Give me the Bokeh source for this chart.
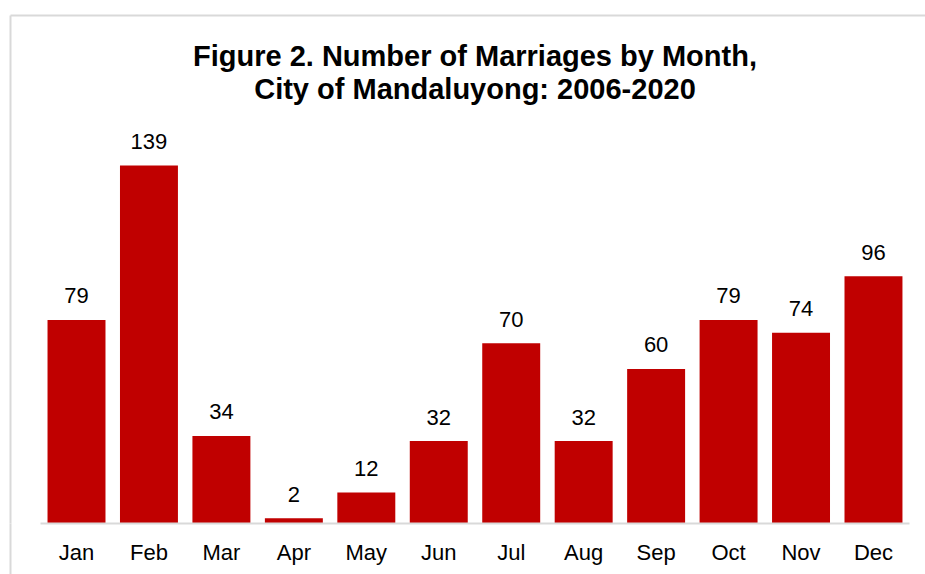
from bokeh.plotting import figure
from bokeh.models import LinearAxis, FixedTicker, Range1d, ColumnDataSource
from bokeh.core.properties import value
from bokeh.embed import file_html
from bokeh.resources import INLINE

# ---- data ----
months = ["Jan", "Feb", "Mar", "Apr", "May", "Jun",
          "Jul", "Aug", "Sep", "Oct", "Nov", "Dec"]
marriages = [79, 139, 34, 2, 12, 32, 70, 32, 60, 79, 74, 96]
title_lines = ["Figure 2. Number of Marriages by Month,",
               "City of Mandaluyong: 2006-2020"]

FONT = "Liberation Sans"
BAR = "#C00000"
BORDER = "#D9D9D9"

n = len(months)
xs = list(range(n))

x_start, x_end = -0.911, 11.718
y_start, y_end = 0, 197.2

p = figure(width=925, height=574, output_backend="svg", toolbar_location=None,
           x_range=Range1d(x_start, x_end), y_range=Range1d(y_start, y_end),
           x_axis_location=None, y_axis_location=None,
           min_border_left=10, min_border_right=0,
           min_border_top=15, min_border_bottom=51)
p.outline_line_color = None
p.grid.visible = False
p.background_fill_color = "white"
p.border_fill_color = "white"

src = ColumnDataSource(dict(x=xs, y=marriages, lab=[str(v) for v in marriages], m=months))

p.vbar(x="x", top="y", bottom=0, width=0.8, source=src,
       fill_color=BAR, line_color=None)

p.text(x="x", y="y", text="lab", source=src, text_align="center",
       text_baseline="alphabetic", y_offset=-24,
       text_font=value(FONT), text_font_size="22px", text_color="black")

# title lines (inside frame, centred on the chart)
tsrc = ColumnDataSource(dict(x=[(n - 1) / 2] * 2, y=[y_end] * 2,
                             t=title_lines, off=[40, 73]))
p.text(x="x", y="y", text="t", y_offset="off", source=tsrc,
       text_align="center", text_baseline="alphabetic",
       text_font=value(FONT), text_font_size="29px", text_font_style="bold",
       text_color="black")

# baseline: axis line spanning only the categories
base = LinearAxis(ticker=FixedTicker(ticks=[]), bounds=(-0.5, n - 0.5),
                  axis_line_color=BORDER, axis_line_width=2,
                  major_tick_in=0, major_tick_out=0,
                  minor_tick_in=0, minor_tick_out=0,
                  major_label_standoff=0)
p.add_layout(base, "below")

# month labels; a minor tick at the frame's left edge continues the
# chart-area border downwards
maxis = LinearAxis(ticker=FixedTicker(ticks=xs, minor_ticks=[x_start]),
                   major_label_overrides={i: m for i, m in enumerate(months)},
                   axis_line_color=None,
                   major_tick_line_color=None, major_tick_in=0, major_tick_out=0,
                   minor_tick_line_color=BORDER, minor_tick_line_width=2,
                   minor_tick_in=0, minor_tick_out=51,
                   major_label_standoff=16 - 51,
                   major_label_text_font=FONT, major_label_text_font_size="22px",
                   major_label_text_color="black")
p.add_layout(maxis, "below")

# chart-area border (top and left)
top = LinearAxis(ticker=FixedTicker(ticks=[]), axis_line_color=BORDER, axis_line_width=2,
                 major_tick_in=0, major_tick_out=0, minor_tick_in=0, minor_tick_out=0,
                 major_label_standoff=0)
p.add_layout(top, "above")
left = LinearAxis(ticker=FixedTicker(ticks=[]), axis_line_color=BORDER, axis_line_width=2,
                  major_tick_in=0, major_tick_out=0, minor_tick_in=0, minor_tick_out=0,
                  major_label_standoff=0)
p.add_layout(left, "left")

open("out.html", "w").write(file_html(p, INLINE))
